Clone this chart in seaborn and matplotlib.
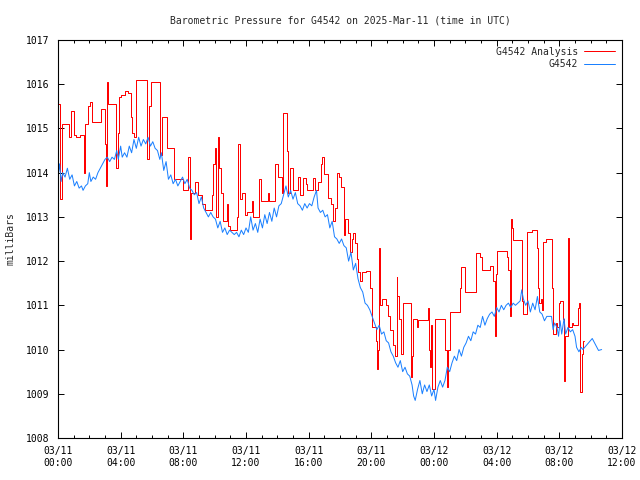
import pandas as pd
import matplotlib
matplotlib.use("Agg")
import matplotlib.pyplot as plt
import matplotlib.dates as mdates
import seaborn as sns

# hours after 2025-03-11 00:00 UTC, pressure in millibars
obs_hours = [0.0, 0.1, 0.2, 0.3, 0.45, 0.6, 0.75, 0.9, 1.05, 1.2, 1.35, 1.5, 1.6, 1.75, 1.9,
             2.0, 2.1, 2.25, 2.4, 2.55, 2.7, 2.85, 3.0, 3.15, 3.3, 3.45, 3.6, 3.75, 3.85, 4.0,
             4.1, 4.25, 4.4, 4.55, 4.7, 4.85, 5.0, 5.15, 5.3, 5.45, 5.6, 5.75, 5.9, 6.05, 6.2,
             6.35, 6.5, 6.6, 6.75, 6.9, 7.05, 7.2, 7.35, 7.5, 7.65, 7.8, 7.95, 8.1, 8.25, 8.4,
             8.55, 8.7, 8.85, 9.0, 9.15, 9.3, 9.45, 9.6, 9.75, 9.9, 10.05, 10.2, 10.35, 10.5,
             10.65, 10.8, 10.95, 11.1, 11.25, 11.4, 11.55, 11.7, 11.85, 12.0, 12.15, 12.3,
             12.45, 12.6, 12.75, 12.9, 13.05, 13.2, 13.35, 13.5, 13.65, 13.8, 13.95, 14.1,
             14.25, 14.4, 14.55, 14.7, 14.85, 15.0, 15.15, 15.3, 15.45, 15.6, 15.75, 15.9,
             16.05, 16.2, 16.35, 16.5, 16.6, 16.75, 16.9, 17.05, 17.2, 17.35, 17.5, 17.65,
             17.8, 17.95, 18.1, 18.25, 18.4, 18.55, 18.7, 18.85, 19.0, 19.15, 19.3, 19.45,
             19.6, 19.75, 19.9, 20.05, 20.2, 20.35, 20.5, 20.65, 20.8, 20.95, 21.1, 21.25,
             21.4, 21.55, 21.7, 21.85, 22.0, 22.15, 22.3, 22.45, 22.6, 22.7, 22.8, 22.95,
             23.1, 23.25, 23.4, 23.55, 23.7, 23.85, 24.0, 24.1, 24.25, 24.4, 24.55, 24.7,
             24.85, 25.0, 25.15, 25.3, 25.45, 25.6, 25.75, 25.9, 26.05, 26.2, 26.35, 26.5,
             26.65, 26.8, 26.95, 27.1, 27.25, 27.4, 27.55, 27.7, 27.85, 28.0, 28.15, 28.3,
             28.45, 28.6, 28.75, 28.9, 29.05, 29.2, 29.35, 29.5, 29.6, 29.7, 29.85, 30.0,
             30.15, 30.3, 30.45, 30.6, 30.75, 30.9, 31.05, 31.2, 31.35, 31.5, 31.6, 31.7,
             31.85, 31.95, 32.05, 32.15, 32.3, 32.4, 32.55, 32.7, 32.85, 33.0, 33.1, 33.25,
             33.4, 33.5, 34.1, 34.5, 34.7]
obs_mb = [1013.9, 1014.2, 1013.8, 1014.0, 1013.9, 1014.1, 1013.85, 1013.95, 1013.7, 1013.8,
          1013.65, 1013.7, 1013.6, 1013.7, 1013.75, 1014.0, 1013.8, 1013.9, 1013.85, 1014.0,
          1014.1, 1014.2, 1014.3, 1014.35, 1014.25, 1014.35, 1014.3, 1014.5, 1014.3, 1014.6,
          1014.35, 1014.45, 1014.35, 1014.6, 1014.45, 1014.75, 1014.55, 1014.8, 1014.6,
          1014.75, 1014.65, 1014.8, 1014.6, 1014.7, 1014.55, 1014.5, 1014.3, 1014.45,
          1014.05, 1014.25, 1013.85, 1013.95, 1013.75, 1013.85, 1013.7, 1013.8, 1013.9,
          1013.75, 1013.85, 1013.65, 1013.6, 1013.5, 1013.55, 1013.3, 1013.45, 1013.2,
          1013.1, 1013.0, 1013.1, 1013.0, 1012.95, 1012.75, 1012.9, 1012.65, 1012.75,
          1012.6, 1012.7, 1012.65, 1012.6, 1012.65, 1012.55, 1012.7, 1012.6, 1012.75,
          1012.65, 1013.0, 1012.7, 1012.85, 1012.65, 1012.95, 1012.75, 1013.05, 1012.85,
          1013.1, 1012.9, 1013.2, 1013.0, 1013.25, 1013.3, 1013.5, 1013.7, 1013.45, 1013.6,
          1013.4, 1013.55, 1013.3, 1013.25, 1013.15, 1013.3, 1013.2, 1013.3, 1013.25,
          1013.45, 1013.6, 1013.2, 1013.1, 1013.15, 1013.0, 1013.05, 1012.75, 1012.9,
          1012.55, 1012.5, 1012.4, 1012.5, 1012.35, 1012.3, 1012.0, 1012.2, 1011.8, 1011.95,
          1011.6, 1011.4, 1011.3, 1011.05, 1011.0, 1010.9, 1010.75, 1010.6, 1010.45,
          1010.55, 1010.35, 1010.4, 1010.2, 1010.15, 1009.95, 1009.85, 1009.7, 1009.6,
          1009.75, 1009.5, 1009.6, 1009.45, 1009.4, 1009.2, 1008.95, 1008.85, 1009.1,
          1009.3, 1009.0, 1009.2, 1009.05, 1009.2, 1008.95, 1009.1, 1008.85, 1009.15,
          1009.3, 1009.15, 1009.3, 1009.6, 1009.5, 1009.7, 1009.85, 1009.75, 1010.0,
          1009.85, 1010.05, 1010.15, 1010.3, 1010.2, 1010.4, 1010.35, 1010.55, 1010.5,
          1010.75, 1010.55, 1010.7, 1010.8, 1010.85, 1010.75, 1010.95, 1010.85, 1011.0,
          1010.9, 1011.0, 1011.05, 1010.95, 1011.05, 1011.0, 1011.05, 1011.1, 1011.35,
          1011.15, 1011.0, 1011.1, 1010.85, 1011.05, 1010.9, 1011.2, 1010.85, 1010.8,
          1010.65, 1010.75, 1010.75, 1010.75, 1010.45, 1010.6, 1010.5, 1010.3, 1010.65,
          1010.35, 1010.7, 1010.35, 1010.5, 1010.4, 1010.45, 1010.3, 1010.05, 1009.95,
          1010.05, 1010.0, 1010.25, 1009.98, 1010.0]

# analysis values, held until the next change
ana_hours = [0.0, 0.15, 0.25, 0.6, 0.7, 0.85, 1.0, 1.15, 1.4, 1.65, 1.75, 1.9, 2.05, 2.15,
             2.75, 3.0, 3.05, 3.12, 3.2, 3.7, 3.8, 3.9, 4.0, 4.3, 4.45, 4.65, 4.75, 4.85,
             5.0, 5.65, 5.8, 5.95, 6.5, 6.62, 6.95, 7.4, 8.0, 8.32, 8.42, 8.5, 8.74, 8.95,
             9.17, 9.38, 9.81, 9.91, 10.02, 10.1, 10.2, 10.3, 10.4, 10.55, 10.76, 10.85,
             11.0, 11.4, 11.5, 11.6, 11.72, 11.93, 12.04, 12.36, 12.47, 12.85, 12.95, 13.42,
             13.5, 13.85, 14.06, 14.27, 14.38, 14.6, 14.7, 14.8, 15.02, 15.34, 15.44, 15.66,
             15.8, 15.87, 16.25, 16.4, 16.61, 16.76, 16.87, 16.98, 17.25, 17.4, 17.57, 17.68,
             17.78, 17.95, 18.04, 18.25, 18.32, 18.5, 18.64, 18.74, 18.85, 18.95, 19.06,
             19.17, 19.27, 19.38, 19.63, 19.91, 20.02, 20.27, 20.38, 20.44, 20.5, 20.55,
             20.65, 20.93, 21.08, 21.19, 21.4, 21.5, 21.61, 21.67, 21.76, 21.89, 22.04,
             22.53, 22.57, 22.68, 22.89, 23.0, 23.6, 23.7, 23.76, 23.82, 23.9, 24.06, 24.7,
             24.85, 24.91, 25.02, 25.65, 25.7, 25.97, 26.67, 26.93, 27.04, 27.57, 27.74,
             27.89, 27.95, 28.04, 28.63, 28.74, 28.85, 28.91, 28.95, 29.06, 29.59, 29.7,
             29.91, 30.23, 30.55, 30.62, 30.72, 30.82, 30.88, 30.93, 30.97, 31.18, 31.55,
             31.61, 31.76, 31.87, 31.97, 32.04, 32.25, 32.32, 32.36, 32.55, 32.6, 32.64,
             32.78, 32.89, 33.2, 33.27, 33.35, 33.42, 33.48, 33.6]
ana_mb = [1015.55, 1013.4, 1015.1, 1015.1, 1014.8, 1015.4, 1014.85, 1014.8, 1014.85, 1014.0,
          1015.1, 1015.5, 1015.6, 1015.15, 1015.45, 1014.65, 1013.7, 1016.05, 1015.55,
          1014.1, 1014.9, 1015.7, 1015.75, 1015.85, 1015.8, 1015.25, 1014.9, 1014.8,
          1016.1, 1014.3, 1015.5, 1016.05, 1014.4, 1015.25, 1014.55, 1013.85, 1013.6,
          1014.35, 1012.5, 1013.55, 1013.8, 1013.5, 1013.3, 1013.15, 1013.5, 1014.2,
          1014.55, 1013.0, 1014.8, 1014.1, 1013.55, 1012.9, 1013.3, 1012.8, 1012.7, 1013.0,
          1014.65, 1013.4, 1013.55, 1013.05, 1013.1, 1013.35, 1013.0, 1013.85, 1013.35,
          1013.55, 1013.35, 1014.2, 1013.9, 1013.55, 1015.35, 1014.5, 1013.55, 1014.1,
          1013.6, 1013.9, 1013.5, 1013.88, 1013.75, 1013.6, 1013.88, 1013.6, 1013.8,
          1014.2, 1014.35, 1013.97, 1013.43, 1013.3, 1012.9, 1013.2, 1014.0, 1013.9,
          1013.68, 1012.6, 1012.95, 1012.63, 1012.2, 1012.5, 1012.63, 1012.4, 1012.05,
          1011.75, 1011.55, 1011.75, 1011.77, 1011.4, 1010.5, 1010.2, 1009.55, 1010.0,
          1012.3, 1011.0, 1011.15, 1011.0, 1010.75, 1010.45, 1010.1, 1009.85, 1011.65,
          1011.2, 1010.7, 1009.9, 1011.05, 1009.38, 1009.85, 1010.7, 1010.5, 1010.67,
          1010.95, 1010.0, 1009.6, 1010.55, 1009.1, 1010.7, 1010.0, 1009.15, 1010.0,
          1010.85, 1011.4, 1011.87, 1011.3, 1012.18, 1012.1, 1011.8, 1011.9, 1011.55,
          1010.3, 1011.7, 1012.23, 1012.1, 1011.8, 1010.75, 1012.95, 1012.75, 1012.48,
          1011.1, 1010.8, 1012.65, 1012.7, 1012.3, 1011.4, 1011.05, 1011.15, 1010.9,
          1011.6, 1012.43, 1012.5, 1011.4, 1010.35, 1010.6, 1010.5, 1011.05, 1011.1,
          1010.7, 1009.3, 1010.3, 1012.52, 1011.3, 1010.5, 1010.6, 1010.55, 1010.95,
          1011.05, 1009.05, 1009.9, 1010.2, 1010.2]

start = pd.Timestamp("2025-03-11 00:00")
obs = pd.DataFrame({"time": start + pd.to_timedelta(obs_hours, unit="h"), "mb": obs_mb})
ana = pd.DataFrame({"time": start + pd.to_timedelta(ana_hours, unit="h"), "mb": ana_mb})

sns.set_style("ticks")
plt.rcParams["font.family"] = ["DejaVu Sans Mono"]
plt.rcParams["font.size"] = 7

fig = plt.figure(figsize=(6.4, 4.8), dpi=100)
ax = fig.add_axes([0.0906, 0.0875, 0.8813, 0.8292])

sns.lineplot(data=ana, x="time", y="mb", ax=ax, color="#ff0000", linewidth=0.72,
             drawstyle="steps-post", estimator=None, label="G4542 Analysis")
sns.lineplot(data=obs, x="time", y="mb", ax=ax, color="#1a80ff", linewidth=0.72,
             estimator=None, label="G4542")

ax.set_xlim(start, start + pd.Timedelta(hours=36))
ax.set_ylim(1008, 1017)
ax.set_yticks(range(1008, 1018))
ax.xaxis.set_major_locator(mdates.HourLocator(byhour=range(0, 24, 4)))
ax.xaxis.set_minor_locator(mdates.HourLocator())
ax.xaxis.set_major_formatter(mdates.DateFormatter("%m/%d\n%H:%M"))
ax.tick_params(which="both", direction="in", top=True, right=True, colors="black",
               labelsize=7, width=0.7)
ax.tick_params(which="major", length=4.5, pad=6)
ax.tick_params(which="minor", length=2.5)
for s in ax.spines.values():
    s.set_linewidth(0.8)
    s.set_color("black")

ax.set_title("Barometric Pressure for G4542 on 2025-Mar-11 (time in UTC)", fontsize=7, pad=12)
ax.set_xlabel("")
ax.set_ylabel("milliBars", fontsize=7, labelpad=8)
ax.legend(loc="upper right", frameon=False, markerfirst=False, handlelength=3.2,
          fontsize=7, borderaxespad=0.3, labelspacing=0.25, handletextpad=0.6)

fig.savefig("out.png", dpi=100)
